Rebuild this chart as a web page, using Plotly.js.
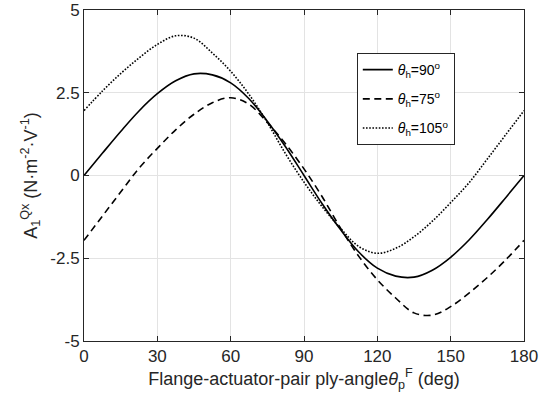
<!DOCTYPE html>
<html><head><meta charset="utf-8">
<script src="https://cdn.plot.ly/plotly-3.0.1.min.js"></script>
<style>html,body{margin:0;padding:0;background:#fff}#chart{width:545px;height:405px}</style>
</head><body><div id="chart"></div>
<script>
const theta = [0,7.5,15,22.5,30,37.5,45,52.5,60,67.5,75,82.5,90,97.5,105,112.5,120,127.5,135,142.5,150,157.5,165,172.5,180];
const a90  = [0,0.67,1.33,1.95,2.47,2.86,3.07,3.04,2.8,2.32,1.64,0.86,0,-0.86,-1.64,-2.32,-2.8,-3.04,-3.07,-2.86,-2.47,-1.95,-1.33,-0.67,0];
const a75  = [-1.96,-1.23,-0.5,0.22,0.82,1.38,1.85,2.2,2.35,2.15,1.6,0.95,0.2,-0.65,-1.6,-2.45,-3.15,-3.7,-4.15,-4.22,-3.96,-3.55,-3.08,-2.55,-1.96];
const a105 = [1.96,2.55,3.08,3.55,3.96,4.22,4.15,3.7,3.15,2.45,1.6,0.65,-0.2,-0.95,-1.6,-2.15,-2.35,-2.2,-1.85,-1.38,-0.82,-0.22,0.5,1.23,1.96];
const names = ['<i>θ</i><sub>h</sub>=90<sup>o</sup>','<i>θ</i><sub>h</sub>=75<sup>o</sup>','<i>θ</i><sub>h</sub>=105<sup>o</sup>'];
const xTicks = [0,30,60,90,120,150,180];
const yTicks = [-5,-2.5,0,2.5,5];

const mk = (y, name, dash, g) => ({x: theta, y: y, name: name, legendgroup: g, type: 'scatter', mode: 'lines',
  line: {color: '#000', width: 1.6, dash: dash, shape: 'spline', smoothing: 1}});
const data = [mk(a90, names[0], 'solid', 'a'), mk(a75, names[1], '7px,4.5px', 'b'), mk(a105, names[2], '1.6px,1.6px', 'c')];

const ax = {showline: true, linecolor: '#262626', linewidth: 1, mirror: 'ticks', ticks: 'inside', ticklen: 5,
  tickcolor: '#262626', showgrid: true, gridcolor: '#e3e3e3', gridwidth: 1, zeroline: false,
  tickfont: {family: 'Liberation Sans, Arial, sans-serif', size: 17, color: '#262626'}};
const layout = {
  width: 545, height: 405, margin: {l: 84, r: 21, t: 10, b: 64},
  paper_bgcolor: '#fff', plot_bgcolor: '#fff', font: {family: 'Liberation Sans, Arial, sans-serif', color: '#262626'},
  xaxis: Object.assign({}, ax, {range: [0, 180], tickvals: xTicks, ticktext: xTicks.map(String),
    title: {text: 'Flange-actuator-pair ply-angle<i>θ</i><sub>p</sub><sup>F</sup> (deg)', font: {size: 18, color: '#262626'}, standoff: 6}}),
  yaxis: Object.assign({}, ax, {range: [-5, 5], tickvals: yTicks, ticktext: yTicks.map(String),
    title: {text: 'A<sub>1</sub><sup>Qx</sup> (N·m<sup>-2</sup>·V<sup>-1</sup>)', font: {size: 18, color: '#262626'}, standoff: 8}}),
  showlegend: true,
  legend: {x: 0.62, y: 0.87, xanchor: 'left', yanchor: 'top', bgcolor: '#fff', bordercolor: '#262626', borderwidth: 1,
    font: {size: 14, color: '#000'}, itemwidth: 30, tracegroupgap: 8}
};
Plotly.newPlot('chart', data, layout, {staticPlot: true, displayModeBar: false});
</script></body></html>
